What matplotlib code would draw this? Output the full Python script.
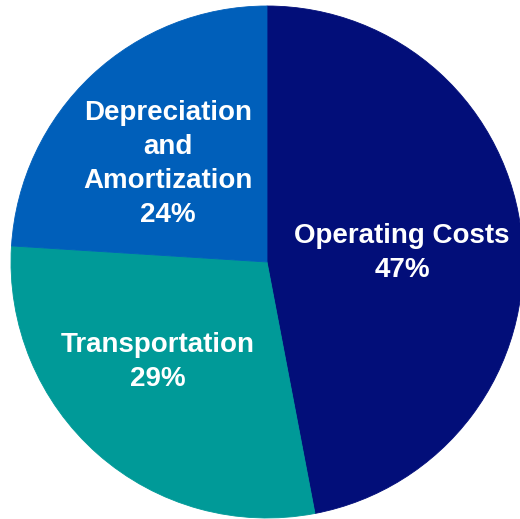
import matplotlib
matplotlib.use("Agg")
from matplotlib import pyplot as plt
import numpy as np

plt.rcParams['font.family'] = ['Liberation Sans', 'DejaVu Sans']

# cost breakdown
categories = ["Operating Costs", "Transportation", "Depreciation\nand\nAmortization"]
shares = [47, 29, 24]
colors = ["#020E79", "#009A98", "#005FBA"]

# label anchor (radius as fraction of pie radius, angle in degrees)
label_r = [0.529, 0.578, 0.543]
label_ang = [4.0, -137.7, 135.4]

fig = plt.figure(figsize=(5.2, 5.19), dpi=100)
ax = fig.add_axes([0, 0, 1, 1])

wedges, _ = ax.pie(shares, colors=colors, startangle=90, counterclock=False,
                   radius=1.0, center=(0, 0),
                   wedgeprops=dict(linewidth=0.6, edgecolor=None))
for w, c in zip(wedges, colors):
    w.set_edgecolor(c)

for cat, val, r, a in zip(categories, shares, label_r, label_ang):
    t = np.deg2rad(a)
    ax.text(r * np.cos(t), r * np.sin(t), f"{cat}\n{val}%",
            ha="center", va="center", color="white", fontsize=20,
            fontweight="bold", linespacing=1.4)

# pie centre sits at (267, 262) px with a 256 px radius
scale = 256.0
ax.set_xlim(-267 / scale, (520 - 267) / scale)
ax.set_ylim(-(519 - 262) / scale, 262 / scale)
ax.set_aspect("auto")
ax.axis("off")

plt.savefig("out.png", dpi=100)
